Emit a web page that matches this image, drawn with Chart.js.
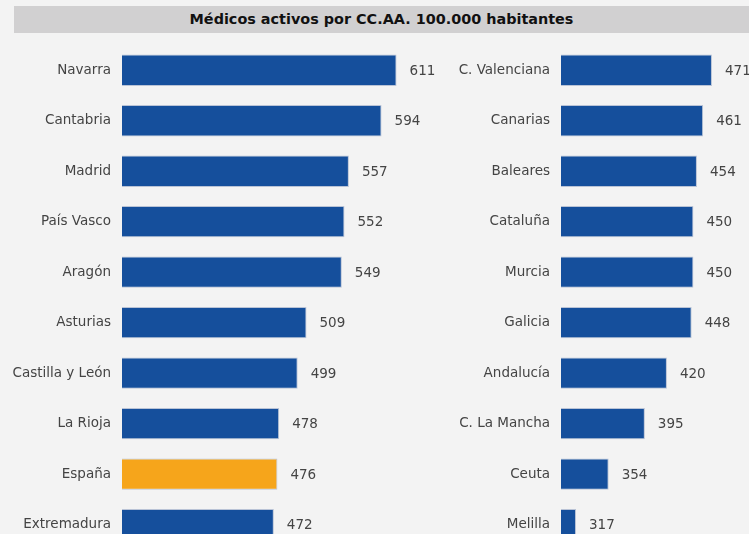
<!DOCTYPE html>
<html>
<head>
<meta charset="utf-8">
<script src="https://cdn.jsdelivr.net/npm/chart.js@4"></script>
<style>
  html, body { margin: 0; padding: 0; background: #f3f3f3; overflow: hidden; width: 749px; height: 534px; }
  #title {
    position: absolute; left: 14px; top: 6px; width: 735px; height: 27px;
    background: #d1d0d1; color: #111; font: bold 14.4px "DejaVu Sans", sans-serif;
    line-height: 27px; text-align: center;
  }
  canvas { position: absolute; top: 0; }
  #chartLeft { left: 0; }
  #chartRight { left: 439px; }
</style>
</head>
<body>
<div id="title">Médicos activos por CC.AA. 100.000 habitantes</div>
<canvas id="chartLeft" width="439" height="569"></canvas>
<canvas id="chartRight" width="450" height="569"></canvas>
<script>
// datos @ panel izquierdo
var regionsLeft = ['Navarra', 'Cantabria', 'Madrid', 'País Vasco', 'Aragón', 'Asturias', 'Castilla y León', 'La Rioja', 'España', 'Extremadura'];
var valuesLeft = [611, 594, 557, 552, 549, 509, 499, 478, 476, 472];

// datos @ panel derecho
var regionsRight = ['C. Valenciana', 'Canarias', 'Baleares', 'Cataluña', 'Murcia', 'Galicia', 'Andalucía', 'C. La Mancha', 'Ceuta', 'Melilla'];
var valuesRight = [471, 461, 454, 450, 450, 448, 420, 395, 354, 317];

var axisMin = 300;
var axisMax = 650;

var blue = '#154f9c';
var orange = '#f6a51b';

// value labels next to each bar
var valueLabels = {
  id: 'valueLabels',
  afterDatasetsDraw: function (chart) {
    var ctx = chart.ctx;
    var meta = chart.getDatasetMeta(0);
    var data = chart.data.datasets[0].data;
    ctx.save();
    ctx.font = '13.5px "DejaVu Sans", sans-serif';
    ctx.fillStyle = '#444';
    ctx.textAlign = 'left';
    ctx.textBaseline = 'middle';
    meta.data.forEach(function (bar, i) {
      ctx.fillText(data[i], bar.x + 13, bar.y + 1);
    });
    ctx.restore();
  }
};

function makeChart(id, labels, values, padRight) {
  var colors = labels.map(function (l) { return l === 'España' ? orange : blue; });
  return new Chart(document.getElementById(id), {
    type: 'bar',
    data: {
      labels: labels,
      datasets: [{
        data: values,
        backgroundColor: colors,
        borderColor: '#b9c3d6',
        borderWidth: 1,
        borderSkipped: false,
        barPercentage: 0.62,
        categoryPercentage: 1
      }]
    },
    options: {
      indexAxis: 'y',
      responsive: false,
      animation: false,
      layout: { padding: { top: 45, bottom: 0, left: 0, right: padRight } },
      plugins: { legend: { display: false }, tooltip: { enabled: false }, title: { display: false } },
      scales: {
        x: { display: false, min: axisMin, max: axisMax },
        y: {
          afterFit: function (scale) { scale.width = 122; },
          grid: { display: false, drawTicks: false },
          border: { display: false },
          ticks: {
            padding: 11,
            color: '#444',
            font: { family: '"DejaVu Sans", sans-serif', size: 13.5 }
          }
        }
      }
    },
    plugins: [valueLabels]
  });
}

makeChart('chartLeft', regionsLeft, valuesLeft, 8);
makeChart('chartRight', regionsRight, valuesRight, 19);
</script>
</body>
</html>
